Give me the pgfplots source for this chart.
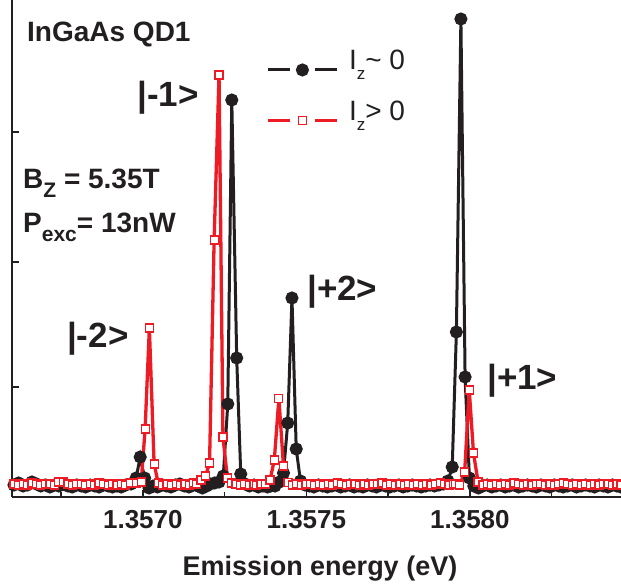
\documentclass[border=0pt]{standalone}
\usepackage{fontspec}
\setmainfont{Liberation Sans}
\usepackage{pgfplots}
\usepackage{pgfplotstable}
\pgfplotsset{compat=1.18}
\definecolor{cblack}{HTML}{231F20}
\definecolor{cred}{HTML}{ED1C24}
% x = emission energy offset from 1.3570 eV, in micro-eV (1.3575 eV = 500)
\pgfplotstableread{
x y
-394 12
-380 14
-366 11
-353 12
-339 15
-325 13
-312 11
-298 12
-284 10
-270 12
-257 11
-243 13
-229 11
-216 10
-202 12
-188 11
-175 10
-161 12
-147 11
-134 10
-120 12
-106 11
-93 10
-79 11
-66 10
-52 12
-36 13
-20.5 19
-8 40
5.5 19
19 9
31.5 11
45 10
59 12
72 11
86 10
100 12
113 13
127 11
141 10
154 12
168 11
182 9
195 11
205.6 13
219.4 14
233 15
246 21
259.7 93
272 397
287 139
299.4 23
312.6 13
326 11
340 12
353 10
367 11
381 10
391 11
404 11
418 15
430 24
443 74
456 199
469 48
482 16
496 12
509 11
523 10
537 12
550 11
564 10
578 11
591 12
605 10
619 11
632 12
646 10
660 11
673 10
687 12
701 11
714 10
728 12
742 11
755 10
769 11
783 12
796 10
810 11
824 12
837 11
851 10
865 11
878 12
892 11
905 12
919 13
933 16
946 30
958.7 165
972.5 478
985.3 120
998.5 19
1012 11
1026 9
1039 11
1053 12
1067 10
1080 11
1094 12
1108 10
1121 11
1135 12
1149 10
1162 11
1176 12
1190 11
1203 10
1217 12
1231 11
1244 10
1258 12
1272 11
1285 10
1299 11
1313 12
1326 10
1340 11
1354 12
1367 11
1381 10
1395 12
1408 11
1422 10
1436 12
1449 11
1462 10
}\blacktable
\pgfplotstableread{
x y
-394 13
-380 12
-366 13
-353 12
-339 14
-325 13
-312 12
-298 13
-284 13
-270 12
-257 15
-243 15
-229 13
-216 12
-202 13
-188 13
-175 12
-161 13
-147 12
-134 14
-120 13
-106 12
-93 13
-79 12
-66 13
-52 12
-38 14
-19 14
-5 15
7 68
20 169
34.5 33
47 14
61 12
74 13
88 12
102 13
115 12
129 13
143 12
156 14
164 13
178 17
192 21
204 34
218 257
233 422
245 60
258.5 19
271 14
285 13
298 12
312 13
326 12
340 13
347 12
361 13
375 13
389 17
402 37
416 98.5
430 31
444 14.5
458 12
471 13
485 12
499 13
512 13
526 12
540 13
553 12
567 13
581 12
594 14
608 13
622 12
635 13
649 13
663 12
676 13
690 12
704 13
717 13
731 14
745 12
758 13
772 12
786 13
799 12
813 13
827 12
840 13
854 12
868 13
881 12
895 13
909 14
922 13
936 12
950 13
956 13
969 12
984 25
998 107
1011 44
1025 15
1040 12
1053 13
1067 12
1081 13
1094 12
1108 13
1122 12
1135 14
1149 13
1163 12
1176 13
1190 12
1204 13
1217 13
1231 12
1245 13
1258 12
1272 13
1286 14
1299 13
1313 12
1327 13
1340 12
1354 13
1368 12
1381 13
1395 12
1409 13
1422 13
1436 12
1450 13
1462 12
}\redtable
\begin{document}
\begin{tikzpicture}
\useasboundingbox (0,0) rectangle (621pt,588pt);
\begin{axis}[
 at={(12pt,91pt)}, anchor=south west,
 scale only axis, width=609pt, height=497pt,
 xmin=-400, xmax=1462, ymin=0, ymax=497,
 axis x line*=bottom, axis y line*=left,
 axis line style={line width=1.6pt, draw=cblack, -},
 xtick={0,500,1000}, xticklabels={1.3570,1.3575,1.3580},
 minor xtick={-250,250,750,1250},
 ytick={110,235,365}, yticklabels={},
 tick align=inside,
 major tick length=7pt, minor tick length=5pt,
 every tick/.style={line width=1.6pt, cblack},
 xticklabel style={font=\fontsize{26}{30}\selectfont\bfseries, text=cblack, anchor=base, yshift=-32pt},
 xlabel={Emission energy (eV)},
 xlabel style={font=\fontsize{27}{32}\selectfont\bfseries, text=cblack, at={(axis description cs:0.5,0)}, anchor=base, yshift=-79pt, xshift=3.5pt},
 clip=false,
 legend style={at={(rel axis cs:0.418,0.905)}, anchor=north west, draw=none, fill=none, inner sep=0pt,
   font=\fontsize{28}{32}\selectfont, text=cblack, row sep=23pt,
   nodes={inner sep=3pt, anchor=base west},
   /tikz/every odd column/.append style={column sep=7pt}},
 legend cell align=left,
 legend image code/.code={
   \draw[#1, mark=none] (0pt,0pt) -- (22pt,0pt);
   \draw[#1, mark=none] (47pt,0pt) -- (69pt,0pt);
   \draw[#1, only marks] plot coordinates {(34pt,0pt)};
 },
]
\addplot[cblack, line width=3pt, mark=*, mark size=5pt, mark options={fill=cblack, draw=none}] table[x=x,y=y] {\blacktable};
\addlegendentry{I\raisebox{-10pt}{\fontsize{17}{20}\selectfont z}\textasciitilde{} 0}
\addplot[cred, line width=3.3pt, mark=square*, mark size=4pt, mark options={fill=white, draw=cred, line width=1.2pt}] table[x=x,y=y] {\redtable};
\addlegendentry{I\raisebox{-10pt}{\fontsize{17}{20}\selectfont z}> 0}
\node[anchor=base west, inner sep=0pt, font=\fontsize{28}{32}\selectfont\bfseries, text=cblack] at (rel axis cs:0.02463,0.9155) {InGaAs QD1};
\node[anchor=base west, inner sep=0pt, font=\fontsize{28}{32}\selectfont\bfseries, text=cblack] at (rel axis cs:0.01806,0.6217) {B\raisebox{-9pt}{\fontsize{21}{24}\selectfont Z} = 5.35T};
\node[anchor=base west, inner sep=0pt, font=\fontsize{28}{32}\selectfont\bfseries, text=cblack] at (rel axis cs:0.01806,0.5312) {P\raisebox{-9pt}{\fontsize{21}{24}\selectfont exc}= 13nW};
\node[anchor=base west, inner sep=0pt, font=\fontsize{35}{40}\selectfont\bfseries, text=cblack] at (rel axis cs:0.2053,0.7867) {|-1>};
\node[anchor=base west, inner sep=0pt, font=\fontsize{35}{40}\selectfont\bfseries, text=cblack] at (rel axis cs:0.0903,0.2998) {|-2>};
\node[anchor=base west, inner sep=0pt, font=\fontsize{35}{40}\selectfont\bfseries, text=cblack] at (rel axis cs:0.4844,0.3944) {|+2>};
\node[anchor=base west, inner sep=0pt, font=\fontsize{35}{40}\selectfont\bfseries, text=cblack] at (rel axis cs:0.7800,0.2153) {|+1>};
\end{axis}
\end{tikzpicture}
\end{document}
